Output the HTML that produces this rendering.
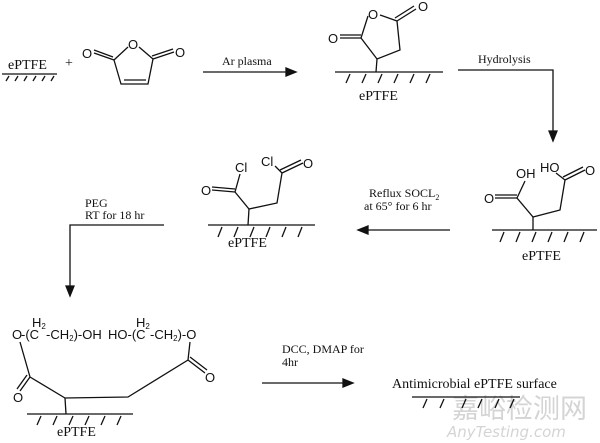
<!DOCTYPE html>
<html><head><meta charset="utf-8"><style>
html,body{margin:0;padding:0;background:#fff;}
svg{display:block;}
.s{font-family:"Liberation Serif",serif;fill:#111;}
.a{font-family:"Liberation Sans",sans-serif;fill:#111;font-size:13px;}
line,polyline,path{stroke:#111;stroke-width:1.3;fill:none;}
</style></head><body>
<svg width="600" height="443" viewBox="0 0 600 443" xmlns="http://www.w3.org/2000/svg">
<!-- watermark -->
<text x="452" y="418" style="font-family:'Noto Sans CJK SC',sans-serif;font-size:27px;fill:#d4d4d4">嘉峪检测网</text>
<text x="447" y="437" style="font-family:'DejaVu Sans',sans-serif;font-style:italic;font-size:15px;fill:#d4d4d4">AnyTesting.com</text>

<!-- reactant ePTFE -->
<text class="s" x="8" y="69" font-size="14">ePTFE</text>
<line x1="2" y1="74" x2="57" y2="74"/>
<path d="M9 76L6 81M18 76L15 81M27 76L24 81M36 76L33 81M45 76L42 81M54 76L51 81"/>
<text class="s" x="65" y="67" font-size="14">+</text>
<!-- maleic anhydride -->
<text class="a" x="128" y="49">O</text>
<text class="a" x="82" y="58">O</text>
<text class="a" x="175" y="57">O</text>
<path d="M128 47L114 60L121 84L148 84L153 59L139 47"/>
<line x1="124" y1="80" x2="146" y2="80"/>
<path d="M114 60L94 53M113 57L94 50"/>
<path d="M153 59L174 52M152 56L173 49"/>
<!-- Ar plasma arrow -->
<text class="s" x="222" y="65" font-size="12">Ar plasma</text>
<line x1="203" y1="72" x2="288" y2="72"/>
<path d="M286 68L296 72L286 76Z" style="fill:#111"/>

<!-- succinic anhydride on surface -->
<text class="a" x="368" y="19">O</text>
<text class="a" x="418" y="11">O</text>
<text class="a" x="328" y="43">O</text>
<path d="M368 16L361 38L377 59L400 50L397 21L380 15"/>
<path d="M361 38L340 38M361 35L340 35"/>
<path d="M397 21L416 9M395 18L414 6"/>
<line x1="377" y1="59" x2="376" y2="72"/>
<line x1="335" y1="72" x2="443" y2="72"/>
<path d="M350 74L346 83M366 74L362 83M382 74L378 83M398 74L394 83M414 74L410 83M430 74L426 83"/>
<text class="s" x="359" y="100" font-size="14">ePTFE</text>
<!-- hydrolysis -->
<text class="s" x="478" y="63" font-size="12">Hydrolysis</text>
<polyline points="458,70 553,70 553,133"/>
<path d="M549 131L553 141L557 131Z" style="fill:#111"/>

<!-- acid product -->
<text class="a" x="516" y="178">OH</text>
<text class="a" x="540" y="172">HO</text>
<text class="a" x="585" y="175">O</text>
<text class="a" x="484" y="203">O</text>
<path d="M525 181L517 198L533 217L560 210L565 180L556 173"/>
<path d="M517 198L495 198M517 195L495 195"/>
<path d="M565 180L585 170M563 177L583 167"/>
<line x1="533" y1="217" x2="533" y2="230"/>
<line x1="492" y1="230" x2="597" y2="230"/>
<path d="M504 232L500 242M520 232L516 242M536 232L532 242M552 232L548 242M568 232L564 242M584 232L580 242"/>
<text class="s" x="522" y="260" font-size="14">ePTFE</text>
<!-- reflux arrow -->
<text class="s" x="369" y="197" font-size="12">Reflux SOCL<tspan font-size="8" dy="3">2</tspan></text>
<text class="s" x="364" y="210" font-size="12">at 65° for 6 hr</text>
<line x1="366" y1="230" x2="450" y2="230"/>
<path d="M368 226L358 230L368 234Z" style="fill:#111"/>

<!-- acyl chloride -->
<text class="a" x="235" y="172">Cl</text>
<text class="a" x="261" y="166">Cl</text>
<text class="a" x="303" y="168">O</text>
<text class="a" x="201" y="195">O</text>
<path d="M240 174L235 192L249 209L277 203L282 173L275 166"/>
<path d="M235 192L212 190M235 189L212 187"/>
<path d="M282 173L303 163M280 170L301 160"/>
<line x1="249" y1="209" x2="248" y2="225"/>
<line x1="208" y1="225" x2="315" y2="225"/>
<path d="M222 227L218 237M238 227L234 237M254 227L250 237M270 227L266 237M286 227L282 237M302 227L298 237"/>
<text class="s" x="228" y="247" font-size="14">ePTFE</text>
<!-- PEG arrow -->
<text class="s" x="85" y="207" font-size="12">PEG</text>
<text class="s" x="85" y="219" font-size="12">RT for 18 hr</text>
<polyline points="164,225 70,225 70,288"/>
<path d="M66 286L70 296L74 286Z" style="fill:#111"/>

<!-- PEG grafted -->
<text class="a" x="12" y="339">O</text>
<text class="a" x="21" y="339" font-size="12">-(C</text>
<text class="a" x="32" y="327" font-size="11">H<tspan font-size="8" dy="2">2</tspan></text>
<text class="a" x="46" y="339" font-size="12">-CH<tspan font-size="8" dy="2">2</tspan><tspan dy="-2">)-OH</tspan></text>
<text class="a" x="108" y="339" font-size="12">HO-(C</text>
<text class="a" x="136" y="327" font-size="11">H<tspan font-size="8" dy="2">2</tspan></text>
<text class="a" x="150" y="339" font-size="12">-CH<tspan font-size="8" dy="2">2</tspan><tspan dy="-2">)-O</tspan></text>
<path d="M20 342L30 377L65 398L128 397L188 360L190 342"/>
<path d="M30 377L20 391M27 375L17 389"/>
<text class="a" x="13" y="402">O</text>
<path d="M188 360L205 373M190 357L207 370"/>
<text class="a" x="205" y="382">O</text>
<line x1="65" y1="398" x2="66" y2="414"/>
<line x1="27" y1="414" x2="133" y2="414"/>
<path d="M41 416L37 425M57 416L53 425M73 416L69 425M89 416L85 425M105 416L101 425M121 416L117 425"/>
<text class="s" x="57" y="436" font-size="14">ePTFE</text>

<!-- DCC arrow -->
<text class="s" x="282" y="353" font-size="12">DCC, DMAP for</text>
<text class="s" x="282" y="366" font-size="12">4hr</text>
<line x1="262" y1="383" x2="345" y2="383"/>
<path d="M343 379L353 383L343 387Z" style="fill:#111"/>
<text class="s" x="392" y="388" font-size="14">Antimicrobial ePTFE surface</text>
<line x1="412" y1="397" x2="520" y2="397"/>
<path d="M427 399L423 408M444 399L440 408M466 399L462 408M482 399L478 408M499 399L495 408M514 399L510 408"/>
</svg>
</body></html>
